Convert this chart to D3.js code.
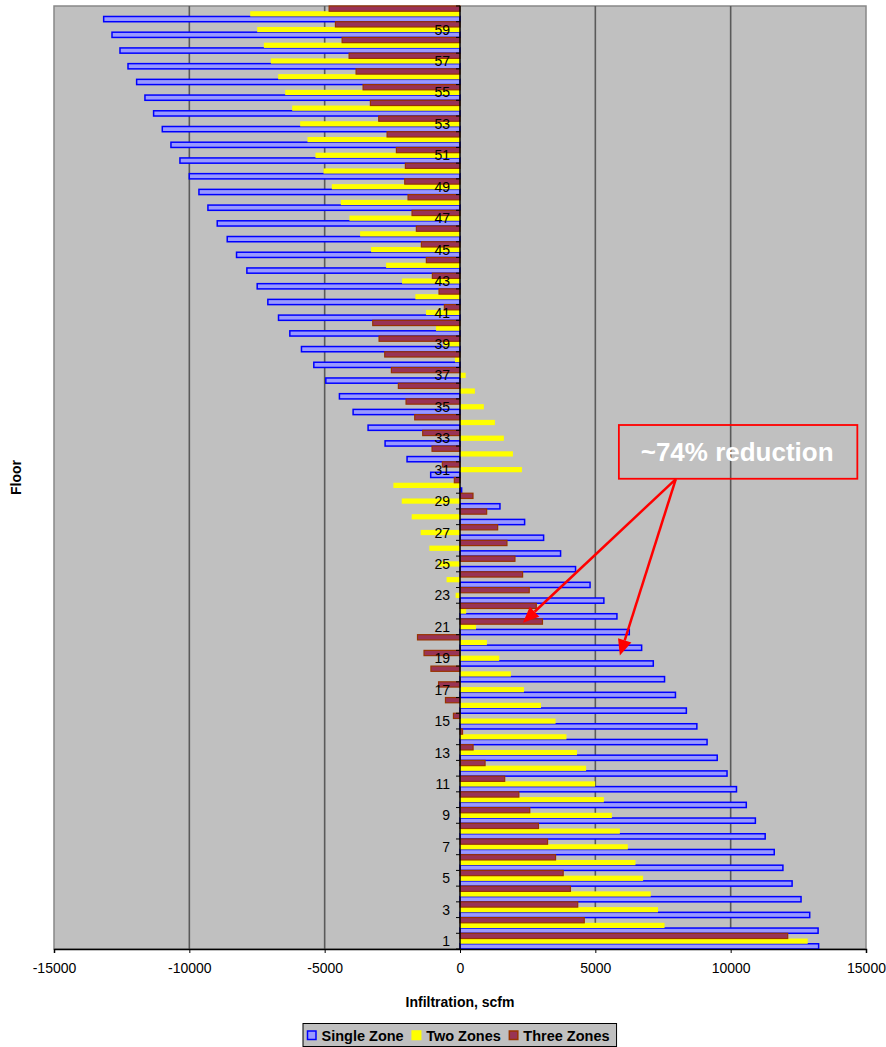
<!DOCTYPE html>
<html>
<head>
<meta charset="utf-8">
<script src="https://cdn.jsdelivr.net/npm/d3@7"></script>
<style>
  html, body { margin: 0; padding: 0; background: #ffffff; }
  svg { display: block; font-family: "Liberation Sans", Arial, Helvetica, sans-serif; }
</style>
</head>
<body>
<svg id="chart" width="886" height="1047"></svg>
<script>
// Floors, bottom (1) to top (60)
const floors = d3.range(1, 61);

// Infiltration per floor, scfm (index 0 = floor 1)
const singleZone = [
  13250, 13230, 12920, 12600, 12270, 11930, 11610, 11275, 10913, 10577,
  10215, 9866, 9503, 9128, 8751, 8363, 7960, 7557, 7141, 6711,
  6255, 5798, 5315, 4805, 4269, 3716, 3089, 2387, 1476, 60,
  -1083, -1956, -2768, -3396, -3949, -4455, -4958, -5401, -5857, -6287,
  -6705, -7099, -7493, -7874, -8256, -8600, -8969, -9313, -9645, -10002,
  -10347, -10679, -10999, -11320, -11640, -11947, -12266, -12562, -12857, -13165
];
const twoZones = [
  12846, 7557, 7316, 7047, 6765, 6483, 6201, 5906, 5610, 5315,
  4993, 4658, 4322, 3933, 3531, 2993, 2363, 1880, 1450, 994,
  591, 228, -161, -496, -800, -1132, -1452, -1784, -2152, -2461,
  2288, 1956, 1620, 1290, 880, 550, 209, -185, -615, -886,
  -1255, -1649, -2141, -2731, -3285, -3691, -4085, -4404, -4736, -5044,
  -5340, -5635, -5906, -6201, -6459, -6718, -6988, -7246, -7493, -7751
];
const threeZones = [
  12107, 4591, 4349, 4080, 3812, 3530, 3235, 2899, 2577, 2174,
  1651, 926, 483, 94, -242, -537, -792, -1074, -1329, -1570,
  3047, 2819, 2558, 2313, 2030, 1735, 1391, 985, 480, -209,
  -652, -1033, -1378, -1673, -1993, -2277, -2535, -2781, -2990, -3224,
  -578, -775, -1021, -1243, -1427, -1612, -1772, -1919, -2042, -2018,
  -2350, -2694, -3002, -3310, -3580, -3839, -4097, -4355, -4602, -4835
];

const seriesNames = ["Single Zone", "Two Zones", "Three Zones"];
const xTicks = [-15000, -10000, -5000, 0, 5000, 10000, 15000];
const gridValues = [-10000, -5000, 5000, 10000];
const floorLabels = floors.filter(f => f % 2 === 1);

// Callout: box corners and arrow points in (scfm, floor) units
const calloutText = "~74% reduction";
const calloutBox = { x0: 5870, x1: 14680, f0: 30.42, f1: 33.84 };
const calloutTextPos = { v: 10240, f: 32.12 };
const arrowStart = { v: 7973, f: 30.40 };
const arrowTips = [ { v: 2325, f: 21.26 }, { v: 5906, f: 19.17 } ];

const styles = {
  "Single Zone": { fill: "#9999FF", stroke: "#0000FF", sw: 1.5 },
  "Two Zones":   { fill: "#FFFF00", stroke: "none",    sw: 0 },
  "Three Zones": { fill: "#993355", stroke: "#993300", sw: 1.2 }
};

const svg = d3.select("#chart");
const plot = { left: 54, right: 866, top: 6, bottom: 949 };

const x = d3.scaleLinear().domain([-15000, 15000]).range([plot.left, plot.right]);
const y = d3.scaleBand().domain(floors.slice().reverse()).range([plot.top, plot.bottom]).padding(0);
// series stacked inside each floor band: Three Zones on top, Single Zone at bottom
const ySub = d3.scaleBand().domain(["Three Zones", "Two Zones", "Single Zone"]).range([0, y.bandwidth()]).padding(0);
// continuous floor position (for the callout)
const yPos = d3.scaleLinear().domain([0.5, 60.5]).range([plot.bottom, plot.top]);

// plot background
svg.append("rect")
  .attr("x", plot.left).attr("y", plot.top)
  .attr("width", plot.right - plot.left).attr("height", plot.bottom - plot.top)
  .attr("fill", "#C0C0C0").attr("stroke", "#888888").attr("stroke-width", 1.5);

// vertical gridlines
svg.append("g").selectAll("line").data(gridValues).join("line")
  .attr("x1", d => x(d)).attr("x2", d => x(d))
  .attr("y1", plot.top).attr("y2", plot.bottom)
  .attr("stroke", "#5a5a5a").attr("stroke-width", 1.6);

// bars
const data = [singleZone, twoZones, threeZones];
seriesNames.forEach((name, si) => {
  const st = styles[name];
  svg.append("g").selectAll("rect").data(floors).join("rect")
    .attr("x", f => x(Math.min(0, data[si][f - 1])))
    .attr("width", f => Math.abs(x(data[si][f - 1]) - x(0)))
    .attr("y", f => y(f) + ySub(name))
    .attr("height", ySub.bandwidth())
    .attr("fill", st.fill)
    .attr("stroke", st.stroke)
    .attr("stroke-width", st.sw);
});

// zero axis with category ticks
const x0 = x(0);
svg.append("line")
  .attr("x1", x0).attr("x2", x0).attr("y1", plot.top).attr("y2", plot.bottom)
  .attr("stroke", "#000").attr("stroke-width", 1.5);
svg.append("g").selectAll("line").data(d3.range(0, 61)).join("line")
  .attr("x1", x0 - 4).attr("x2", x0)
  .attr("y1", i => plot.top + i * y.step()).attr("y2", i => plot.top + i * y.step())
  .attr("stroke", "#000").attr("stroke-width", 1);

// floor labels
svg.append("g").selectAll("text").data(floorLabels).join("text")
  .attr("x", x0 - 10)
  .attr("y", f => y(f) + y.bandwidth() / 2)
  .attr("dy", "0.36em")
  .attr("text-anchor", "end")
  .attr("font-size", 14)
  .attr("fill", "#000")
  .text(d => d);

// bottom value axis
const xAxis = d3.axisBottom(x).tickValues(xTicks).tickSize(4).tickPadding(10).tickFormat(d3.format("d"));
const gx = svg.append("g").attr("transform", `translate(0,${plot.bottom})`).call(xAxis);
gx.select(".domain").attr("stroke", "#000").attr("stroke-width", 1.5);
gx.selectAll(".tick line").attr("stroke", "#000");
gx.selectAll(".tick text")
  .attr("font-size", 14)
  .attr("font-family", "'Liberation Sans', Arial, sans-serif")
  .attr("fill", "#000")
  .text(d => d < 0 ? "-" + Math.abs(d) : String(d));

// axis titles
svg.append("text")
  .attr("x", x0).attr("y", 1007)
  .attr("text-anchor", "middle")
  .attr("font-size", 14).attr("font-weight", "bold")
  .text("Infiltration, scfm");
svg.append("text")
  .attr("transform", `translate(21,${(plot.top + plot.bottom) / 2}) rotate(-90)`)
  .attr("text-anchor", "middle")
  .attr("font-size", 14).attr("font-weight", "bold")
  .text("Floor");

// callout box and text
svg.append("rect")
  .attr("x", x(calloutBox.x0)).attr("y", yPos(calloutBox.f1))
  .attr("width", x(calloutBox.x1) - x(calloutBox.x0))
  .attr("height", yPos(calloutBox.f0) - yPos(calloutBox.f1))
  .attr("fill", "none").attr("stroke", "#FF0000").attr("stroke-width", 1.8);
svg.append("text")
  .attr("x", x(calloutTextPos.v)).attr("y", yPos(calloutTextPos.f))
  .attr("dy", "0.36em")
  .attr("text-anchor", "middle")
  .attr("font-size", 26).attr("font-weight", "bold")
  .attr("fill", "#FFFFFF")
  .text(calloutText);

// arrows
const sx = x(arrowStart.v), sy = yPos(arrowStart.f);
arrowTips.forEach(t => {
  const tx = x(t.v), ty = yPos(t.f);
  const ang = Math.atan2(ty - sy, tx - sx);
  const len = 16, half = 7;
  const bx = tx - len * Math.cos(ang), by = ty - len * Math.sin(ang);
  svg.append("line")
    .attr("x1", sx).attr("y1", sy).attr("x2", bx).attr("y2", by)
    .attr("stroke", "#FF0000").attr("stroke-width", 2.5);
  const px = -Math.sin(ang) * half, py = Math.cos(ang) * half;
  svg.append("path")
    .attr("d", `M${tx},${ty}L${bx + px},${by + py}L${bx - px},${by - py}Z`)
    .attr("fill", "#FF0000");
});

// legend
const lg = svg.append("g");
const legendBox = lg.append("rect")
  .attr("x", 303).attr("y", 1023.5).attr("height", 23)
  .attr("fill", "#C0C0C0").attr("stroke", "#000").attr("stroke-width", 1);
let lx = 307.5;
let lastEnd = lx;
seriesNames.forEach(name => {
  const st = styles[name];
  lg.append("rect")
    .attr("x", lx).attr("y", 1031).attr("width", 8.5).attr("height", 8.5)
    .attr("fill", st.fill)
    .attr("stroke", st.stroke === "none" ? st.fill : st.stroke)
    .attr("stroke-width", 1.5);
  const t = lg.append("text")
    .attr("x", lx + 14).attr("y", 1040.5)
    .attr("font-size", 14.5).attr("font-weight", "bold")
    .text(name);
  lastEnd = lx + 14 + t.node().getComputedTextLength();
  lx = lastEnd + 8.5;
});
legendBox.attr("width", lastEnd + 7 - 303);
</script>
</body>
</html>
